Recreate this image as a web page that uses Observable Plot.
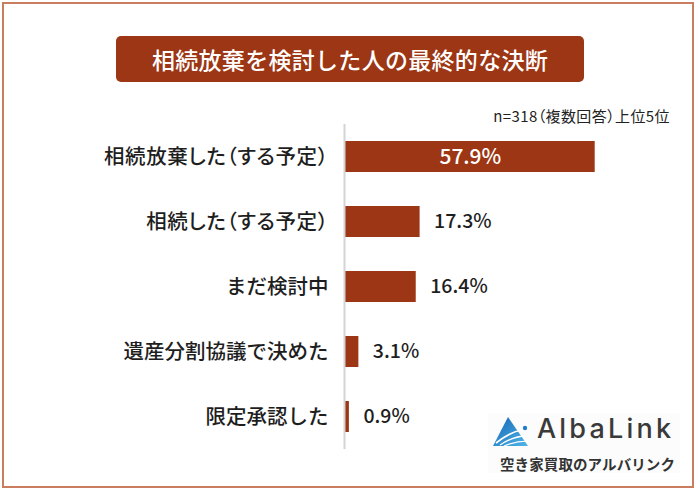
<!DOCTYPE html>
<html>
<head>
<meta charset="utf-8">
<script src="https://cdn.jsdelivr.net/npm/d3@7"></script>
<script src="https://cdn.jsdelivr.net/npm/@observablehq/plot@0.6"></script>
<style>
  html, body { margin: 0; padding: 0; background: #fff; }
  body { font-family: "Noto Sans CJK JP", "Noto Sans", sans-serif; }
  #wrap { position: relative; width: 700px; height: 494px; overflow: hidden; background: #fff; }
  #frame { position: absolute; left: 2px; top: 2px; width: 692px; height: 486px; border: 2px solid #c97d5e; box-sizing: border-box; }
  #title { position: absolute; left: 116px; top: 36px; width: 468px; height: 46px; background: #9c3614; border-radius: 5px;
           color: #fff; font-size: 23px; font-weight: 500; line-height: 46px; text-align: center; letter-spacing: 0.3px; }
  #sub { position: absolute; right: 30px; top: 106px; font-size: 15px; color: #222; line-height: 20px; font-feature-settings: "palt"; letter-spacing: 0.4px; }
  #chart { position: absolute; left: 0; top: 0; }
  #logo { position: absolute; left: 488px; top: 413px; width: 192px; height: 60px; background: #fcfcfc; }
  #logo svg { position: absolute; left: 4px; top: 3px; }
  #logo .brand { position: absolute; left: 49px; top: -1px; font-family: "Inter", "Noto Sans", sans-serif; font-size: 27px; color: #3a3a3a; letter-spacing: 3.2px; font-weight: 500; line-height: 34px; }
  #logo .jp { position: absolute; left: 12px; top: 41px; font-size: 14.5px; color: #333; font-weight: 700; letter-spacing: 0.1px; line-height: 20px; }
</style>
</head>
<body>
<div id="wrap">
  <div id="chart"></div>
  <div id="frame"></div>
  <div id="title">相続放棄を検討した人の最終的な決断</div>
  <div id="sub">n=318（複数回答）上位5位</div>
  <div id="logo">
    <svg width="40" height="34" viewBox="0 0 40 34">
      <defs>
        <linearGradient id="lg" x1="0" y1="0" x2="1" y2="1">
          <stop offset="0" stop-color="#1565b5"/>
          <stop offset="1" stop-color="#4fb6e8"/>
        </linearGradient>
      </defs>
      <polygon points="16,1 1,30 36,30" fill="url(#lg)"/>
      <path d="M4,27 Q18,16 30,14" stroke="#fff" stroke-width="1.6" fill="none"/>
      <path d="M8,29 Q22,20 34,20" stroke="#fff" stroke-width="1.4" fill="none"/>
      <path d="M12,30 Q24,25 36,25" stroke="#fff" stroke-width="1.2" fill="none"/>
      <circle cx="33" cy="12" r="2.2" fill="#1e7fcf"/>
    </svg>
    <div class="brand">AlbaLink</div>
    <div class="jp">空き家買取のアルバリンク</div>
  </div>
</div>
<script>
const categories = ["相続放棄した（する予定）", "相続した（する予定）", "まだ検討中", "遺産分割協議で決めた", "限定承認した"];
const values = [57.9, 17.3, 16.4, 3.1, 0.9];
const valueLabels = ["57.9%", "17.3%", "16.4%", "3.1%", "0.9%"];

const data = categories.map((c, i) => ({category: c, value: values[i], label: valueLabels[i], inside: i === 0}));
const barColor = "#9c3614";

const chart = Plot.plot({
  width: 700,
  height: 494,
  marginLeft: 345,
  marginRight: 10,
  marginTop: 124,
  marginBottom: 45,
  style: {fontFamily: "'Noto Sans CJK JP', 'Noto Sans', sans-serif", background: "transparent", overflow: "visible"},
  x: {domain: [0, 80], axis: null},
  y: {domain: categories, paddingInner: 0.523, paddingOuter: 0.2615, label: null},
  marks: [
    Plot.barX(data, {x: "value", y: "category", fill: barColor}),
    Plot.ruleX([0], {stroke: "#d4d4d4", strokeWidth: 2, dx: -1}),
    Plot.axisY({tickSize: 0, tickPadding: 17, fontSize: 20.5, fontWeight: 500, fill: "#1e1e1e", label: null}),
    Plot.text(data.filter(d => d.inside), {x: d => d.value / 2, y: "category", text: "label", fill: "#fff", fontSize: 21, fontWeight: 500}),
    Plot.text(data.filter(d => !d.inside), {x: "value", y: "category", text: "label", fill: "#1e1e1e", fontSize: 19.5, fontWeight: 500, textAnchor: "start", dx: 14})
  ]
});
// proportional width for full-width parentheses in tick labels
d3.select(chart).selectAll("text").filter(function() { return this.textContent.includes("（"); })
  .style("font-feature-settings", '"palt"')
  .style("letter-spacing", "0.6px");
document.getElementById("chart").appendChild(chart);
</script>
</body>
</html>
